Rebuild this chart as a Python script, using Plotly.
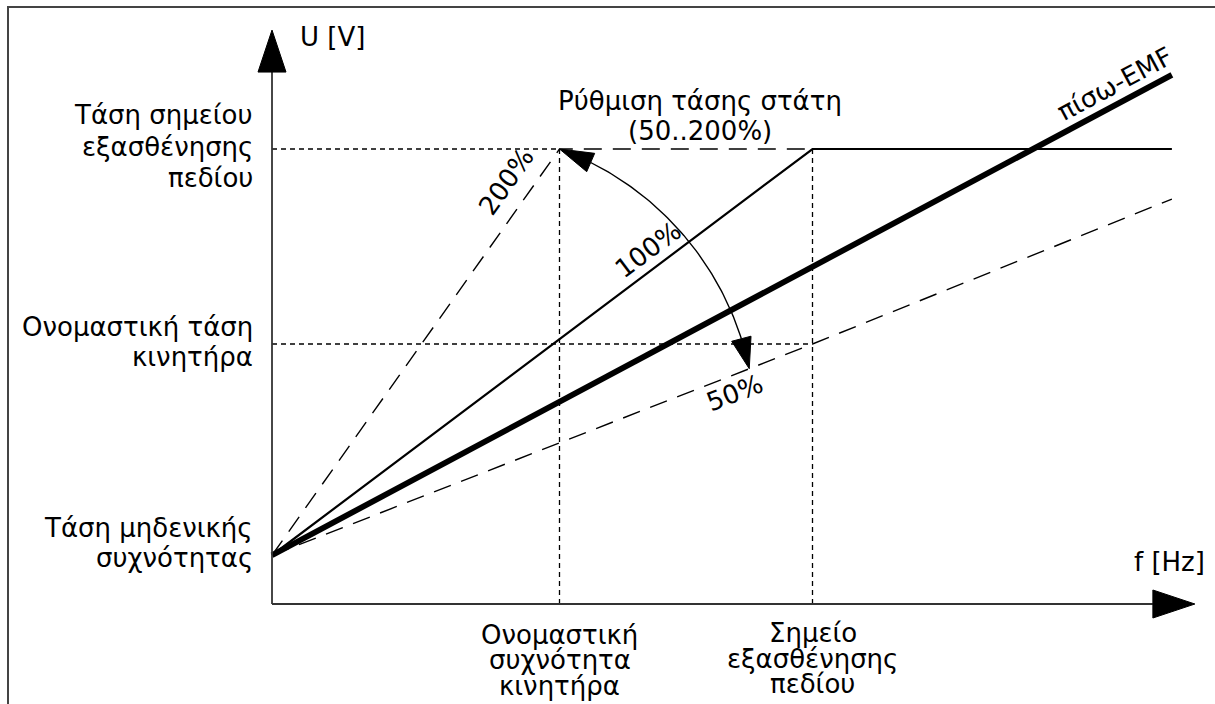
import math
import plotly.graph_objects as go

# ---------------- data (frequency in Hz, voltage in V; schematic values) ----------------
f_nom = 50.0          # nominal motor frequency
f_fw = 94.0           # field weakening point
f_end = 156.5         # right end of the drawn curves
f_axis_max = 160.5    # tip of the f axis arrow
U_zero = 75.0         # zero frequency voltage
U_nom = 400.0         # nominal motor voltage
U_fw = 700.0          # field weakening point voltage
U_axis_max = 883.0    # tip of the U axis arrow

curve100_f = [0.0, f_fw, f_end]
curve100_U = [U_zero, U_fw, U_fw]
curve200_f = [0.0, f_nom, f_fw]
curve200_U = [U_zero, U_fw, U_fw]
curve50_f = [0.0, f_fw, f_end]
curve50_U = [U_zero, U_nom, 623.0]
emf_f = [0.0, f_end]
emf_U = [U_zero, 814.0]
f_arc_end = 83.0      # stator voltage arrow ends on the 50 % curve here

# ---------------- layout / scale (pixels) ----------------
W, H = 1215, 704
X0, Y0 = 272.0, 604.0     # pixel position of the origin
SX, SY = 5.75, 0.65       # pixels per Hz, pixels per V
FONT = "DejaVu Sans"
FS = 26


def px(f, u):
    return X0 + SX * f, Y0 - SY * u


def dat(x, y):
    return (x - X0) / SX, (Y0 - y) / SY


fig = go.Figure()


def line(xs, ys, width, dash=None, color="black"):
    fig.add_trace(go.Scatter(x=xs, y=ys, mode="lines", hoverinfo="skip", showlegend=False,
                             line=dict(color=color, width=width, dash=dash)))


def tri(tip_px, dir_px, length, half_w, color="black"):
    tx, ty = tip_px
    dx, dy = dir_px
    n = math.hypot(dx, dy)
    dx, dy = dx / n, dy / n
    bx, by = tx - dx * length, ty - dy * length
    px_pts = [(tx, ty), (bx - dy * half_w, by + dx * half_w), (bx + dy * half_w, by - dx * half_w), (tx, ty)]
    d = [dat(a, b) for a, b in px_pts]
    fig.add_trace(go.Scatter(x=[p[0] for p in d], y=[p[1] for p in d], mode="lines", fill="toself",
                             fillcolor=color, line=dict(color=color, width=1), hoverinfo="skip",
                             showlegend=False))


SHORT = "5px,4px"
LONG = "18px,11px"

# reference (short dashed) lines
line([0, f_nom], [U_fw, U_fw], 1.3, SHORT)
line([0, f_fw], [U_nom, U_nom], 1.3, SHORT)
line([f_nom, f_nom], [0, U_fw], 1.3, SHORT)
line([f_fw, f_fw], [0, U_fw], 1.3, SHORT)

# curves
line(curve200_f, curve200_U, 1.4, LONG)
line(curve50_f, curve50_U, 1.4, LONG)
line(curve100_f, curve100_U, 2.2)
line(emf_f, emf_U, 5.8)

# axes
ax_len = 42
ah_w = 14
ux_tip = px(0, U_axis_max)
fx_tip = px(f_axis_max, 0)
fU_base = dat(ux_tip[0], ux_tip[1] + ax_len)
fF_base = dat(fx_tip[0] - ax_len, fx_tip[1])
line([0, 0], [0, fU_base[1]], 1.8, color="#333333")
line([0, fF_base[0]], [0, 0], 1.8, color="#333333")
tri(ux_tip, (0, -1), ax_len, ah_w)
tri(fx_tip, (1, 0), ax_len, ah_w)

# stator voltage arc arrow
A = px(f_nom, U_fw)
U_b = U_zero + (U_nom - U_zero) * f_arc_end / f_fw
B = px(f_arc_end, U_b)
R = 299.0
mx, my = (A[0] + B[0]) / 2, (A[1] + B[1]) / 2
dxab, dyab = B[0] - A[0], B[1] - A[1]
d = math.hypot(dxab, dyab)
h = math.sqrt(R * R - (d / 2) ** 2)
ux, uy = dxab / d, dyab / d
C = (mx - uy * h, my + ux * h)
if C[1] < my:
    C = (mx + uy * h, my - ux * h)
phA = math.atan2(A[1] - C[1], A[0] - C[0])
phB = math.atan2(B[1] - C[1], B[0] - C[0])
LA, LB = 34.0, 31.0
pa = phA + LA / R
pb = phB - LB / R
n = 60
arc_px = [(C[0] + R * math.cos(pa + (pb - pa) * i / n), C[1] + R * math.sin(pa + (pb - pa) * i / n)) for i in range(n + 1)]
arc_d = [dat(a, b) for a, b in arc_px]
fig.add_trace(go.Scatter(x=[p[0] for p in arc_d], y=[p[1] for p in arc_d], mode="lines",
                         line=dict(color="black", width=1.4), hoverinfo="skip", showlegend=False))
tri(A, (A[0] - arc_px[0][0], A[1] - arc_px[0][1]), LA, 10)
tri(B, (B[0] - arc_px[-1][0], B[1] - arc_px[-1][1]), LB, 10)

# ---------------- texts ----------------
ann = []


def label(text, x, y, dx, baseline_dy, xanchor="center", size=FS, angle=0):
    center_dy = baseline_dy - 0.35 * size
    ann.append(dict(x=x, y=y, xref="x", yref="y", text=text, showarrow=False, xanchor=xanchor,
                    yanchor="middle", xshift=dx, yshift=-center_dy, textangle=angle,
                    font=dict(family=FONT, size=size, color="black")))


def rot(text, x, y, dx, dy, angle, size=FS):
    ann.append(dict(x=x, y=y, xref="x", yref="y", text=text, showarrow=False, xanchor="center",
                    yanchor="middle", xshift=dx, yshift=dy, textangle=angle,
                    font=dict(family=FONT, size=size, color="black")))


# axis titles
label("U [V]", 0, U_axis_max, 26, 16, xanchor="left")
label("f [Hz]", f_axis_max, 0, 12, -33, xanchor="right")

# left labels
for txt, off in [("Τάση σημείου", -25), ("εξασθένησης", 7), ("πεδίου", 38)]:
    label(txt, 0, U_fw, -17, off, xanchor="right")
for txt, off in [("Ονομαστική τάση", -8), ("κινητήρα", 22)]:
    label(txt, 0, U_nom, -17, off, xanchor="right")
for txt, off in [("Τάση μηδενικής", -18), ("συχνότητας", 12)]:
    label(txt, 0, U_zero, -17, off, xanchor="right")

# bottom labels
for txt, off in [("Ονομαστική", 40), ("συχνότητα", 65), ("κινητήρα", 91)]:
    label(txt, f_nom, 0, 0, off)
for txt, off in [("Σημείο", 38), ("εξασθένησης", 64), ("πεδίου", 89)]:
    label(txt, f_fw, 0, 0, off)

# top label
label("Ρύθμιση τάσης στάτη", (f_nom + f_fw) / 2, U_fw, 14, -39)
label("(50..200%)", (f_nom + f_fw) / 2, U_fw, 14, -9)


def ang(fs, us):
    (x1, y1), (x2, y2) = px(fs[0], us[0]), px(fs[1], us[1])
    return math.degrees(math.atan2(y2 - y1, x2 - x1))


rot("200%", 0.9 * f_nom, U_zero + 0.9 * (U_fw - U_zero), -25, 8, ang(curve200_f, curve200_U))
t = 0.695
rot("100%", t * f_fw, U_zero + t * (U_fw - U_zero), 0, 23, ang(curve100_f, curve100_U))
t = 0.856
rot("50%", t * f_fw, U_zero + t * (U_nom - U_zero), 0, -19, ang(curve50_f, curve50_U))
t = 0.931
rot("πίσω-EMF", t * f_end, U_zero + t * (emf_U[1] - U_zero), 5, 24, ang(emf_f, emf_U))

# frame
shapes = [dict(type="rect", xref="paper", yref="paper", x0=8 / W, x1=1.02, y0=-0.02, y1=1 - 7 / H,
               line=dict(color="#444444", width=2), fillcolor="rgba(0,0,0,0)", layer="below")]

fig.update_layout(
    width=W, height=H, margin=dict(l=0, r=0, t=0, b=0),
    paper_bgcolor="white", plot_bgcolor="white",
    xaxis=dict(range=[(0 - X0) / SX, (W - X0) / SX], visible=False, fixedrange=True),
    yaxis=dict(range=[(Y0 - H) / SY, Y0 / SY], visible=False, fixedrange=True),
    annotations=ann, shapes=shapes, showlegend=False,
)

fig.write_html("out.html", config={"displayModeBar": False},
               post_script="document.body.style.margin='0';document.body.style.overflow='hidden';")
